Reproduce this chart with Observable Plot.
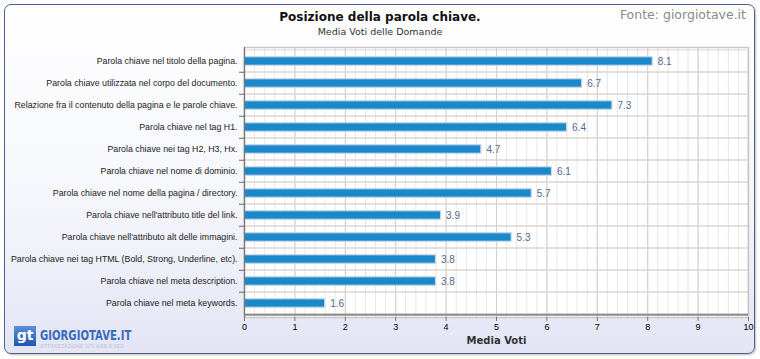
<!DOCTYPE html>
<html><head><meta charset="utf-8">
<script src="https://cdn.jsdelivr.net/npm/d3@7"></script>
<script src="https://cdn.jsdelivr.net/npm/@observablehq/plot@0.6"></script>
<style>
html,body{margin:0;padding:0;background:#fff;}
#wrap{position:relative;width:760px;height:359px;overflow:hidden;font-family:"DejaVu Sans",Verdana,sans-serif;}
#panel{position:absolute;left:4px;top:4px;width:749px;height:348px;border:1.5px solid #4d6189;border-radius:7px;background:linear-gradient(#ffffff 0%,#f6f7fc 55%,#e3e5f5 100%);box-shadow:1px 1px 2px rgba(0,0,0,0.25);}
#chart{position:absolute;left:0;top:0;}
.t{position:absolute;white-space:nowrap;}
#title{left:0;width:760px;top:10px;text-align:center;font-size:12px;font-weight:bold;color:#111;}
#sub{left:0;width:760px;top:26px;text-align:center;font-size:9.5px;color:#333;}
#fonte{right:14px;top:7px;font-size:12.5px;color:#8a8a8a;}
#logo{left:14px;top:326px;}
#gt{position:absolute;left:0;top:0;width:22px;height:20px;background:linear-gradient(#5b8fd6,#1f57b0);color:#fff;font:bold 14px "DejaVu Sans",sans-serif;text-align:center;line-height:18px;}
#gtname{position:absolute;left:26px;top:1px;font:bold 14px "DejaVu Sans",sans-serif;color:#3a6bbd;transform:scaleX(0.72);transform-origin:0 0;}
#gtsub{position:absolute;left:26px;top:17px;font:5px "DejaVu Sans",sans-serif;color:#b8c0d8;}
</style></head>
<body><div id="wrap"><div id="panel"></div><div id="chart"></div>
<div class="t" id="title">Posizione della parola chiave.</div>
<div class="t" id="sub">Media Voti delle Domande</div>
<div class="t" id="fonte">Fonte: giorgiotave.it</div>
<div class="t" id="logo"><div id="gt">gt</div><div id="gtname">GIORGIOTAVE.IT</div><div id="gtsub">OTTIMIZZAZIONE SITI WEB E SEO</div></div>
</div>
<script>
const categories = [
  "Parola chiave nel titolo della pagina.",
  "Parola chiave utilizzata nel corpo del documento.",
  "Relazione fra il contenuto della pagina e le parole chiave.",
  "Parola chiave nel tag H1.",
  "Parola chiave nei tag H2, H3, Hx.",
  "Parola chiave nel nome di dominio.",
  "Parola chiave nel nome della pagina / directory.",
  "Parola chiave nell'attributo title del link.",
  "Parola chiave nell'attributo alt delle immagini.",
  "Parola chiave nei tag HTML (Bold, Strong, Underline, etc).",
  "Parola chiave nel meta description.",
  "Parola chiave nel meta keywords."
];
const values = [8.1, 6.7, 7.3, 6.4, 4.7, 6.1, 5.7, 3.9, 5.3, 3.8, 3.8, 1.6];
const xTicks = [0,1,2,3,4,5,6,7,8,9,10];
const minorTicks = d3.range(0, 50).map(i => i / 5);
const data = categories.map((c, i) => ({cat: c, v: values[i]}));

const W = 760, H = 359, mL = 244, mR = 12, mT = 47, mB = 42;
const band = (H - mT - mB) / categories.length;

const plot = Plot.plot({
  width: W, height: H,
  marginLeft: mL, marginRight: mR, marginTop: mT, marginBottom: mB,
  style: {background: "transparent", fontFamily: "'Liberation Sans', Arial, sans-serif"},
  x: {domain: [0, 10], ticks: xTicks, label: null},
  y: {domain: categories, padding: 0, label: null},
  marks: [
    Plot.frame({fill: "#fff", stroke: "none"}),
    Plot.ruleX(minorTicks, {stroke: "#e6e6e6", strokeWidth: 1}),
    Plot.ruleX(xTicks, {stroke: "#cfcfcf", strokeWidth: 1}),
    Plot.barX(categories, {y: d => d, x1: 0, x2: 10, fill: "none", stroke: "#ddd6d2", strokeWidth: 1}),
    Plot.frame({stroke: "#c8c8c8", strokeWidth: 1.5}),
    Plot.ruleY(categories.slice(1), {y: d => d, x1: -0.1, x2: 0, dy: -band / 2, stroke: "#666", clip: false}),
    Plot.barX(data, {y: "cat", x: "v", fill: "#1a88c9", stroke: "#c7d7e8", strokeWidth: 1.2, insetTop: (band - 9) / 2, insetBottom: (band - 9) / 2}),
    Plot.text(data, {y: "cat", x: "v", text: d => d.v.toFixed(1), dx: 5, textAnchor: "start", fill: "#56688f", fontSize: 10}),
    Plot.ruleY([0], {y: () => categories[categories.length-1], x1: 0, x2: 10, dy: band / 2, stroke: "#8a8a8a", strokeWidth: 2}),
    Plot.ruleX([0], {stroke: "#777", strokeWidth: 1.2}),
    Plot.axisX({ticks: xTicks, tickSize: 4, tickPadding: 2, fontSize: 9, stroke: "#777", label: null}),
    Plot.axisY({tickSize: 0, tickPadding: 7, fontSize: 8.8, fill: "#222", label: null}),
    Plot.text(["Media Voti"], {frameAnchor: "bottom", dy: 26, fontSize: 10, fontWeight: 600, fill: "#333", fontFamily: "DejaVu Sans"})
  ]
});
document.getElementById("chart").appendChild(plot);
</script></body></html>
